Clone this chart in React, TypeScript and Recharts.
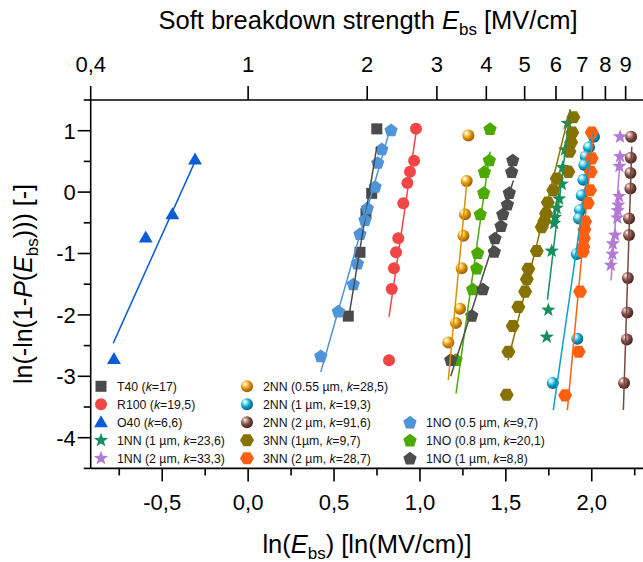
import React from 'react';
import { ScatterChart, Scatter, XAxis, YAxis } from 'recharts';

type Pt = [number, number];

// Weibull points: [ln(E_bs), ln(-ln(1-P))], plus the two ends of each fit line
const t40Pts: Pt[] = [[0.749, 1.03], [0.719, -0.02], [0.686, -0.35], [0.651, -0.98], [0.583, -2.02]];
const t40Fit: Pt[] = [[0.749, 0.74], [0.583, -2.08]];

const r100Pts: Pt[] = [[0.977, 1.03], [0.966, 0.51], [0.942, 0.33], [0.927, 0.15], [0.903, -0.18], [0.874, -0.75], [0.861, -0.98], [0.849, -1.24], [0.836, -1.58], [0.82, -2.74]];
const r100Fit: Pt[] = [[0.977, 0.96], [0.82, -2.03]];

const o40Pts: Pt[] = [[-0.309, 0.53], [-0.441, -0.36], [-0.596, -0.74], [-0.781, -2.72]];
const o40Fit: Pt[] = [[-0.309, 0.5], [-0.785, -2.46]];

const nn1Pts: Pt[] = [[1.86, 1.12], [1.845, 0.69], [1.831, 0.4], [1.825, 0.13], [1.81, -0.11], [1.796, -0.26], [1.786, -0.41], [1.781, -0.51], [1.767, -0.96], [1.747, -1.92], [1.738, -2.36]];
const nn1Fit: Pt[] = [[1.874, 1.35], [1.742, -1.75]];

const nn2Pts: Pt[] = [[2.165, 0.9], [2.165, 0.58], [2.161, 0.42], [2.159, -0.07], [2.155, -0.21], [2.151, -0.3], [2.149, -0.42], [2.136, -0.7], [2.122, -0.84], [2.12, -1.01], [2.111, -1.19]];
const nn2Fit: Pt[] = [[2.165, 0.52], [2.112, -1.44]];

const twoNN055Pts: Pt[] = [[1.282, 0.92], [1.272, 0.18], [1.262, -0.36], [1.253, -0.71], [1.243, -1.24], [1.233, -1.9], [1.21, -2.13], [1.165, -2.45]];
const twoNN055Fit: Pt[] = [[1.272, 0.14], [1.165, -3.06]];

const twoNN1Pts: Pt[] = [[2.013, 0.9], [1.984, 0.73], [1.965, 0.58], [1.957, 0.44], [1.951, 0.2], [1.942, -0.05], [1.932, -0.29], [1.926, -0.43], [1.913, -1.01], [1.916, -2.39], [1.773, -3.11]];
const twoNN1Fit: Pt[] = [[2.009, 0.96], [1.776, -3.55]];

const twoNN2Pts: Pt[] = [[2.229, 0.9], [2.227, 0.56], [2.225, 0.31], [2.225, 0.06], [2.217, -0.43], [2.217, -0.7], [2.21, -1.4], [2.207, -1.96], [2.204, -2.4], [2.188, -3.11]];
const twoNN2Fit: Pt[] = [[2.233, 0.74], [2.184, -3.55]];

const threeNN1Pts: Pt[] = [[1.893, 1.22], [1.887, 0.97], [1.88, 0.81], [1.87, 0.66], [1.864, 0.33], [1.796, 0.22], [1.776, 0.03], [1.744, -0.17], [1.734, -0.35], [1.724, -0.47], [1.709, -0.57], [1.68, -0.96], [1.631, -1.25], [1.622, -1.42], [1.612, -1.62], [1.573, -1.87], [1.54, -2.18], [1.515, -2.6], [1.505, -3.3]];
const threeNN1Fit: Pt[] = [[1.874, 1.34], [1.513, -2.74]];

const threeNN2Pts: Pt[] = [[2.0, 0.97], [2.0, 0.55], [1.994, 0.33], [1.99, 0.03], [1.977, -0.18], [1.961, -0.48], [1.957, -0.61], [1.955, -0.75], [1.951, -0.89], [1.948, -0.97], [1.932, -1.62], [1.924, -2.6], [1.845, -3.31]];
const threeNN2Fit: Pt[] = [[2.006, 0.9], [1.858, -3.55]];

const no05Pts: Pt[] = [[0.832, 1.01], [0.778, 0.7], [0.754, 0.48], [0.739, 0.09], [0.694, -0.26], [0.68, -0.45], [0.651, -0.68], [0.636, -1.16], [0.612, -1.5], [0.525, -1.94], [0.423, -2.67]];
const no05Fit: Pt[] = [[0.816, 0.93], [0.423, -2.93]];

const no08Pts: Pt[] = [[1.408, 1.03], [1.404, 0.52], [1.375, 0.33], [1.371, -0.01], [1.351, -0.36], [1.336, -0.99], [1.33, -1.24], [1.307, -1.58], [1.21, -2.73]];
const no08Fit: Pt[] = [[1.408, 0.66], [1.21, -3.28]];

const no1Pts: Pt[] = [[1.54, 0.52], [1.534, 0.33], [1.52, -0.01], [1.509, -0.2], [1.482, -0.36], [1.472, -0.55], [1.437, -0.75], [1.433, -0.97], [1.366, -1.58], [1.302, -2.01], [1.179, -2.73]];
const no1Fit: Pt[] = [[1.544, 0.19], [1.179, -3.0]];

// axis ticks
const bottomMajor = [-0.5, 0, 0.5, 1, 1.5, 2];
const bottomLabels = ['-0,5', '0,0', '0,5', '1,0', '1,5', '2,0'];
const bottomMinor = [-0.75, -0.25, 0.25, 0.75, 1.25, 1.75, 2.25];
const leftTicks = [-4.5, -4, -3.5, -3, -2.5, -2, -1.5, -1, -0.5, 0, 0.5, 1, 1.5];
const topValues = [0.4, 1, 2, 3, 4, 5, 6, 7, 8, 9];
const topLabels = ['0,4', '1', '2', '3', '4', '5', '6', '7', '8', '9'];

const X_MIN = Math.log(0.4);
const X_MAX = 2.3;
const FONT = '"Liberation Sans", Arial, sans-serif';

type Kind = 'square' | 'circle' | 'triangle' | 'star' | 'ball' | 'hexagon' | 'pentagon';

interface Series {
  id: string;
  name: string;
  k: string;
  color: string;
  kind: Kind;
  pts: Pt[];
  fit: Pt[];
}

const series: Series[] = [
  { id: 't40', name: 'T40 (', k: '17', color: '#4a4a4a', kind: 'square', pts: t40Pts, fit: t40Fit },
  { id: 'r100', name: 'R100 (', k: '19,5', color: '#f04646', kind: 'circle', pts: r100Pts, fit: r100Fit },
  { id: 'o40', name: 'O40 (', k: '6,6', color: '#0a5cd6', kind: 'triangle', pts: o40Pts, fit: o40Fit },
  { id: 'nn1', name: '1NN (1 µm, ', k: '23,6', color: '#14905e', kind: 'star', pts: nn1Pts, fit: nn1Fit },
  { id: 'nn2', name: '1NN (2 µm, ', k: '33,3', color: '#b27ad6', kind: 'star', pts: nn2Pts, fit: nn2Fit },
  { id: 'b055', name: '2NN (0.55 µm, ', k: '28,5', color: '#dc9000', kind: 'ball', pts: twoNN055Pts, fit: twoNN055Fit },
  { id: 'b1', name: '2NN (1 µm, ', k: '19,3', color: '#0aa0c8', kind: 'ball', pts: twoNN1Pts, fit: twoNN1Fit },
  { id: 'b2', name: '2NN (2 µm, ', k: '91,6', color: '#7a4840', kind: 'ball', pts: twoNN2Pts, fit: twoNN2Fit },
  { id: 'h1', name: '3NN (1µm, ', k: '9,7', color: '#857200', kind: 'hexagon', pts: threeNN1Pts, fit: threeNN1Fit },
  { id: 'h2', name: '3NN (2 µm, ', k: '28,7', color: '#ff600f', kind: 'hexagon', pts: threeNN2Pts, fit: threeNN2Fit },
  { id: 'p05', name: '1NO (0.5 µm, ', k: '9,7', color: '#4f94d8', kind: 'pentagon', pts: no05Pts, fit: no05Fit },
  { id: 'p08', name: '1NO (0.8 µm, ', k: '20,1', color: '#4ca900', kind: 'pentagon', pts: no08Pts, fit: no08Fit },
  { id: 'p1', name: '1NO (1 µm, ', k: '8,8', color: '#4d4d4d', kind: 'pentagon', pts: no1Pts, fit: no1Fit },
];

const legendCols: (string | null)[][] = [
  ['t40', 'r100', 'o40', 'nn1', 'nn2'],
  ['b055', 'b1', 'b2', 'h1', 'h2'],
  [null, null, 'p05', 'p08', 'p1'],
];
const legendColX = [101, 247, 410];

const ballShades: Record<string, [string, string, string]> = {
  b055: ['#ffe08a', '#dc9000', '#9a5c00'],
  b1: ['#a8ecff', '#0aa0c8', '#05607e'],
  b2: ['#d0a8a0', '#7a4840', '#45231e'],
};

const toXY = (p: Pt[]) => p.map(([x, y]) => ({ x, y }));

function polyPoints(cx: number, cy: number, n: number, r1: number, r2: number, start: number) {
  const out: string[] = [];
  for (let i = 0; i < n; i++) {
    const r = i % 2 ? r2 : r1;
    const a = ((start + (i * 360) / n) * Math.PI) / 180;
    out.push(`${cx + r * Math.cos(a)},${cy + r * Math.sin(a)}`);
  }
  return out.join(' ');
}

function Marker({ s, cx, cy }: { s: Series; cx?: number; cy?: number }) {
  if (cx == null || cy == null) return <g />;
  const c = s.color;
  switch (s.kind) {
    case 'square':
      return <rect x={cx - 5.5} y={cy - 5.5} width={11} height={11} fill={c} />;
    case 'circle':
      return <circle cx={cx} cy={cy} r={6} fill={c} />;
    case 'ball':
      return <circle cx={cx} cy={cy} r={6} fill={`url(#ball-${s.id})`} />;
    case 'triangle':
      return <polygon points={polyPoints(cx, cy + 1, 3, 8, 8, -90)} fill={c} />;
    case 'star':
      return <polygon points={polyPoints(cx, cy, 10, 7.5, 3.1, -90)} fill={c} />;
    case 'hexagon':
      return <polygon points={polyPoints(cx, cy, 6, 7, 7, 0)} fill={c} />;
    case 'pentagon':
      return <polygon points={polyPoints(cx, cy + 0.5, 5, 7, 7, -90)} fill={c} />;
  }
  return <g />;
}

const AX = { stroke: '#000', strokeWidth: 1.6 };

const BottomTick = ({ x, y, payload }: any) => {
  const idx = bottomMajor.indexOf(payload.value);
  const major = idx >= 0;
  return (
    <g>
      <line x1={x} x2={x} y1={y} y2={y + (major ? 13 : 7)} {...AX} />
      {major && (
        <text x={x} y={y + 42} textAnchor="middle" fontSize={22} fontFamily={FONT} fill="#000">
          {bottomLabels[idx]}
        </text>
      )}
    </g>
  );
};

const TopTick = ({ x, y, payload }: any) => {
  const idx = topValues.findIndex((v) => Math.abs(Math.log(v) - payload.value) < 1e-6);
  return (
    <g>
      <line x1={x} x2={x} y1={y} y2={y - 14} {...AX} />
      <text x={x} y={y - 28} textAnchor="middle" fontSize={22} fontFamily={FONT} fill="#000">
        {topLabels[idx]}
      </text>
    </g>
  );
};

const LeftTick = ({ x, y, payload }: any) => {
  const v = payload.value;
  const major = Number.isInteger(v);
  return (
    <g>
      <line x1={x} x2={x - (major ? 13 : 7)} y1={y} y2={y} {...AX} />
      {major && (
        <text x={x - 15} y={y} dy="0.36em" textAnchor="end" fontSize={22} fontFamily={FONT} fill="#000">
          {String(v)}
        </text>
      )}
    </g>
  );
};

function LegendEntry({ s, x, y }: { s: Series; x: number; y: number }) {
  return (
    <g>
      <Marker s={s} cx={x} cy={y} />
      <text x={x + 16} y={y} dy="0.36em" fontSize={12.3} fontFamily={FONT} fill="#111">
        {s.name}
        <tspan fontStyle="italic">k</tspan>={s.k})
      </text>
    </g>
  );
}

export default function App() {
  const byId = Object.fromEntries(series.map((s) => [s.id, s]));
  const bottomTicks = [...bottomMajor, ...bottomMinor].sort((a, b) => a - b);
  const topTicks = topValues.map((v) => Math.log(v));

  return (
    <div
      style={{
        position: 'fixed',
        left: 0,
        top: 0,
        width: 643,
        height: 562,
        overflow: 'hidden',
        background: '#fff',
      }}
    >
      <div style={{ position: 'absolute', left: 0, top: 0 }}>
        {/* axes are 1px thick so the plot box lands at x 90.7..643, y 100..468.4 */}
        <ScatterChart width={660} height={562} margin={{ top: 99, right: 16.7, bottom: 92.6, left: 89.7 }}>
          <XAxis
            xAxisId={0}
            type="number"
            dataKey="x"
            domain={[X_MIN, X_MAX]}
            allowDataOverflow
            ticks={bottomTicks}
            interval={0}
            height={1}
            tickSize={0}
            tickMargin={0}
            tickLine={false}
            axisLine={AX}
            tick={<BottomTick />}
          />
          <XAxis
            xAxisId="top"
            orientation="top"
            type="number"
            dataKey="x"
            domain={[X_MIN, X_MAX]}
            allowDataOverflow
            ticks={topTicks}
            interval={0}
            height={1}
            tickSize={0}
            tickMargin={0}
            tickLine={false}
            axisLine={AX}
            tick={<TopTick />}
          />
          <YAxis
            yAxisId={0}
            type="number"
            dataKey="y"
            domain={[-4.5, 1.5]}
            allowDataOverflow
            ticks={leftTicks}
            interval={0}
            width={1}
            tickSize={0}
            tickMargin={0}
            tickLine={false}
            axisLine={AX}
            tick={<LeftTick />}
          />
          {series.map((s) => (
            <Scatter
              key={s.id}
              data={toXY(s.pts)}
              xAxisId={0}
              yAxisId={0}
              isAnimationActive={false}
              shape={(p: any) => <Marker s={s} cx={p.cx} cy={p.cy} />}
            />
          ))}
          {/* fit lines share the same x domain; they ride on the top axis */}
          {series.map((s) => (
            <Scatter
              key={`${s.id}-fit`}
              data={toXY(s.fit)}
              xAxisId="top"
              yAxisId={0}
              isAnimationActive={false}
              line={{ stroke: s.color, strokeWidth: 1.5 }}
              lineType="joint"
              shape={() => <g />}
            />
          ))}
        </ScatterChart>
      </div>
      <svg
        width={643}
        height={562}
        style={{ position: 'absolute', left: 0, top: 0, pointerEvents: 'none' }}
      >
        <defs>
          {Object.entries(ballShades).map(([id, [hi, base, dark]]) => (
            <radialGradient key={id} id={`ball-${id}`} cx="40%" cy="38%" r="62%" fx="32%" fy="28%">
              <stop offset="0%" stopColor="#ffffff" />
              <stop offset="22%" stopColor={hi} />
              <stop offset="60%" stopColor={base} />
              <stop offset="100%" stopColor={dark} />
            </radialGradient>
          ))}
        </defs>
        <text x={368} y={29} textAnchor="middle" fontSize={25.5} fontFamily={FONT} fill="#000">
          Soft breakdown strength <tspan fontStyle="italic">E</tspan>
          <tspan fontSize={17} dy={6}>bs</tspan>
          <tspan dy={-6}> [MV/cm]</tspan>
        </text>
        <text x={367} y={553} textAnchor="middle" fontSize={25.5} fontFamily={FONT} fill="#000">
          ln(<tspan fontStyle="italic">E</tspan>
          <tspan fontSize={17} dy={6}>bs</tspan>
          <tspan dy={-6}>) [ln(MV/cm)]</tspan>
        </text>
        <text
          transform="translate(32,284) rotate(-90)"
          textAnchor="middle"
          fontSize={25}
          fontFamily={FONT}
          fill="#000"
        >
          ln(-ln(1-<tspan fontStyle="italic">P</tspan>(<tspan fontStyle="italic">E</tspan>
          <tspan fontSize={17} dy={6}>bs</tspan>
          <tspan dy={-6}>))) [-]</tspan>
        </text>
        {legendCols.map((col, ci) =>
          col.map((id, ri) =>
            id ? <LegendEntry key={id} s={byId[id]} x={legendColX[ci]} y={386.3 + ri * 18} /> : null
          )
        )}
      </svg>
    </div>
  );
}
